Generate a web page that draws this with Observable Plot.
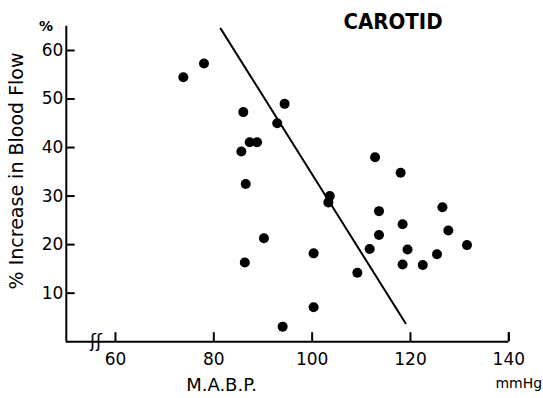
<!DOCTYPE html>
<html><head><meta charset="utf-8">
<script src="https://cdn.jsdelivr.net/npm/d3@7"></script>
<script src="https://cdn.jsdelivr.net/npm/@observablehq/plot@0.6"></script>
<style>body{margin:0;background:#fff} #chart svg{display:block}</style>
</head><body><div id="chart"></div>
<script>
// Data (carotid: M.A.B.P. vs % increase in blood flow)
const mabp = [73.8, 78.0, 86.0, 94.4, 92.9, 85.6, 87.3, 88.8, 86.5, 112.8,
              118.0, 103.6, 103.3, 113.6, 126.5, 118.4, 113.6, 127.7, 111.7, 119.4,
              131.5, 90.2, 100.3, 125.4, 118.4, 122.5, 86.3, 109.2, 100.3, 94.0];
const flow = [54.5, 57.3, 47.3, 49.0, 45.0, 39.2, 41.1, 41.1, 32.5, 38.0,
              34.8, 30.0, 28.7, 26.9, 27.7, 24.2, 22.0, 22.9, 19.1, 19.0,
              19.9, 21.3, 18.2, 18.0, 15.9, 15.8, 16.3, 14.2, 7.1, 3.1];
const fitX = [81.4, 119.0];
const fitY = [64.5, 3.8];
const xTicks = [60, 80, 100, 120, 140];
const yTicks = [10, 20, 30, 40, 50, 60];
const xDomain = [50, 140];
const yDomain = [0, 65];
const title = "CAROTID";
const xLabel = "M.A.B.P.";
const xUnit = "mmHg";
const yLabel = "% Increase in Blood Flow";
const yUnit = "%";
const breakMark = "ʃʃ";

const points = mabp.map((x, i) => ({x, y: flow[i]}));
const fit = fitX.map((x, i) => ({x, y: fitY[i]}));

const chart = Plot.plot({
  width: 543,
  height: 398,
  marginLeft: 65.8,
  marginRight: 34.7,
  marginTop: 25.7,
  marginBottom: 56.8,
  style: {fontFamily: "DejaVu Sans", background: "#fff", color: "#000", overflow: "visible"},
  x: {domain: xDomain},
  y: {domain: yDomain},
  marks: [
    Plot.ruleY([yDomain[0]], {x1: xDomain[0], x2: xDomain[1], stroke: "#000", strokeWidth: 2}),
    Plot.ruleX([xDomain[0]], {y1: yDomain[0], y2: yDomain[1], stroke: "#000", strokeWidth: 2}),
    Plot.ruleX([xDomain[1]], {y1: 0, y2: 1.85, stroke: "#000", strokeWidth: 2}),
    Plot.ruleX(xTicks, {x: d => d, y1: 0, y2: 1.85, stroke: "#000", strokeWidth: 2}),
    Plot.ruleY(yTicks, {y: d => d, x1: xDomain[0], x2: xDomain[0] + 1.8, stroke: "#000", strokeWidth: 2}),
    Plot.axisX({ticks: xTicks, tickSize: 0, tickPadding: 11, fontSize: 17, label: null}),
    Plot.axisY({ticks: yTicks, tickSize: 0, tickPadding: 3, fontSize: 17, label: null}),
    Plot.text([breakMark], {frameAnchor: "bottom-left", dx: 23.7, dy: 0, text: d => d, fontSize: 18, lineAnchor: "middle", fill: "#000"}),
    Plot.line(fit, {x: "x", y: "y", stroke: "#000", strokeWidth: 2}),
    Plot.dot(points, {x: "x", y: "y", r: 5, fill: "#000", stroke: "none"}),
    Plot.text([title], {frameAnchor: "top-right", dx: -115.8, dy: -3.9, text: d => d, fontSize: 22, fontWeight: "bold", fontFamily: "DejaVu Sans Condensed, Liberation Sans Narrow, DejaVu Sans", lineAnchor: "middle", textAnchor: "middle", fill: "#000"}),
    Plot.text([yLabel], {frameAnchor: "left", dx: -49.3, dy: -13, rotate: -90, text: d => d, fontSize: 19, lineAnchor: "middle", textAnchor: "middle", fill: "#000"}),
    Plot.text([yUnit], {frameAnchor: "top-left", dx: -20.3, dy: 0.3, text: d => d, fontSize: 14, fontWeight: "bold", lineAnchor: "middle", textAnchor: "middle", fill: "#000"}),
    Plot.text([xLabel], {frameAnchor: "bottom", dx: -66, dy: 43.8, text: d => d, fontSize: 18, lineAnchor: "middle", textAnchor: "middle", fill: "#000"}),
    Plot.text([xUnit], {frameAnchor: "bottom-right", dx: 10, dy: 42, text: d => d, fontSize: 14, lineAnchor: "middle", textAnchor: "middle", fill: "#000"})
  ]
});
document.getElementById("chart").append(chart);
</script>
</body></html>
